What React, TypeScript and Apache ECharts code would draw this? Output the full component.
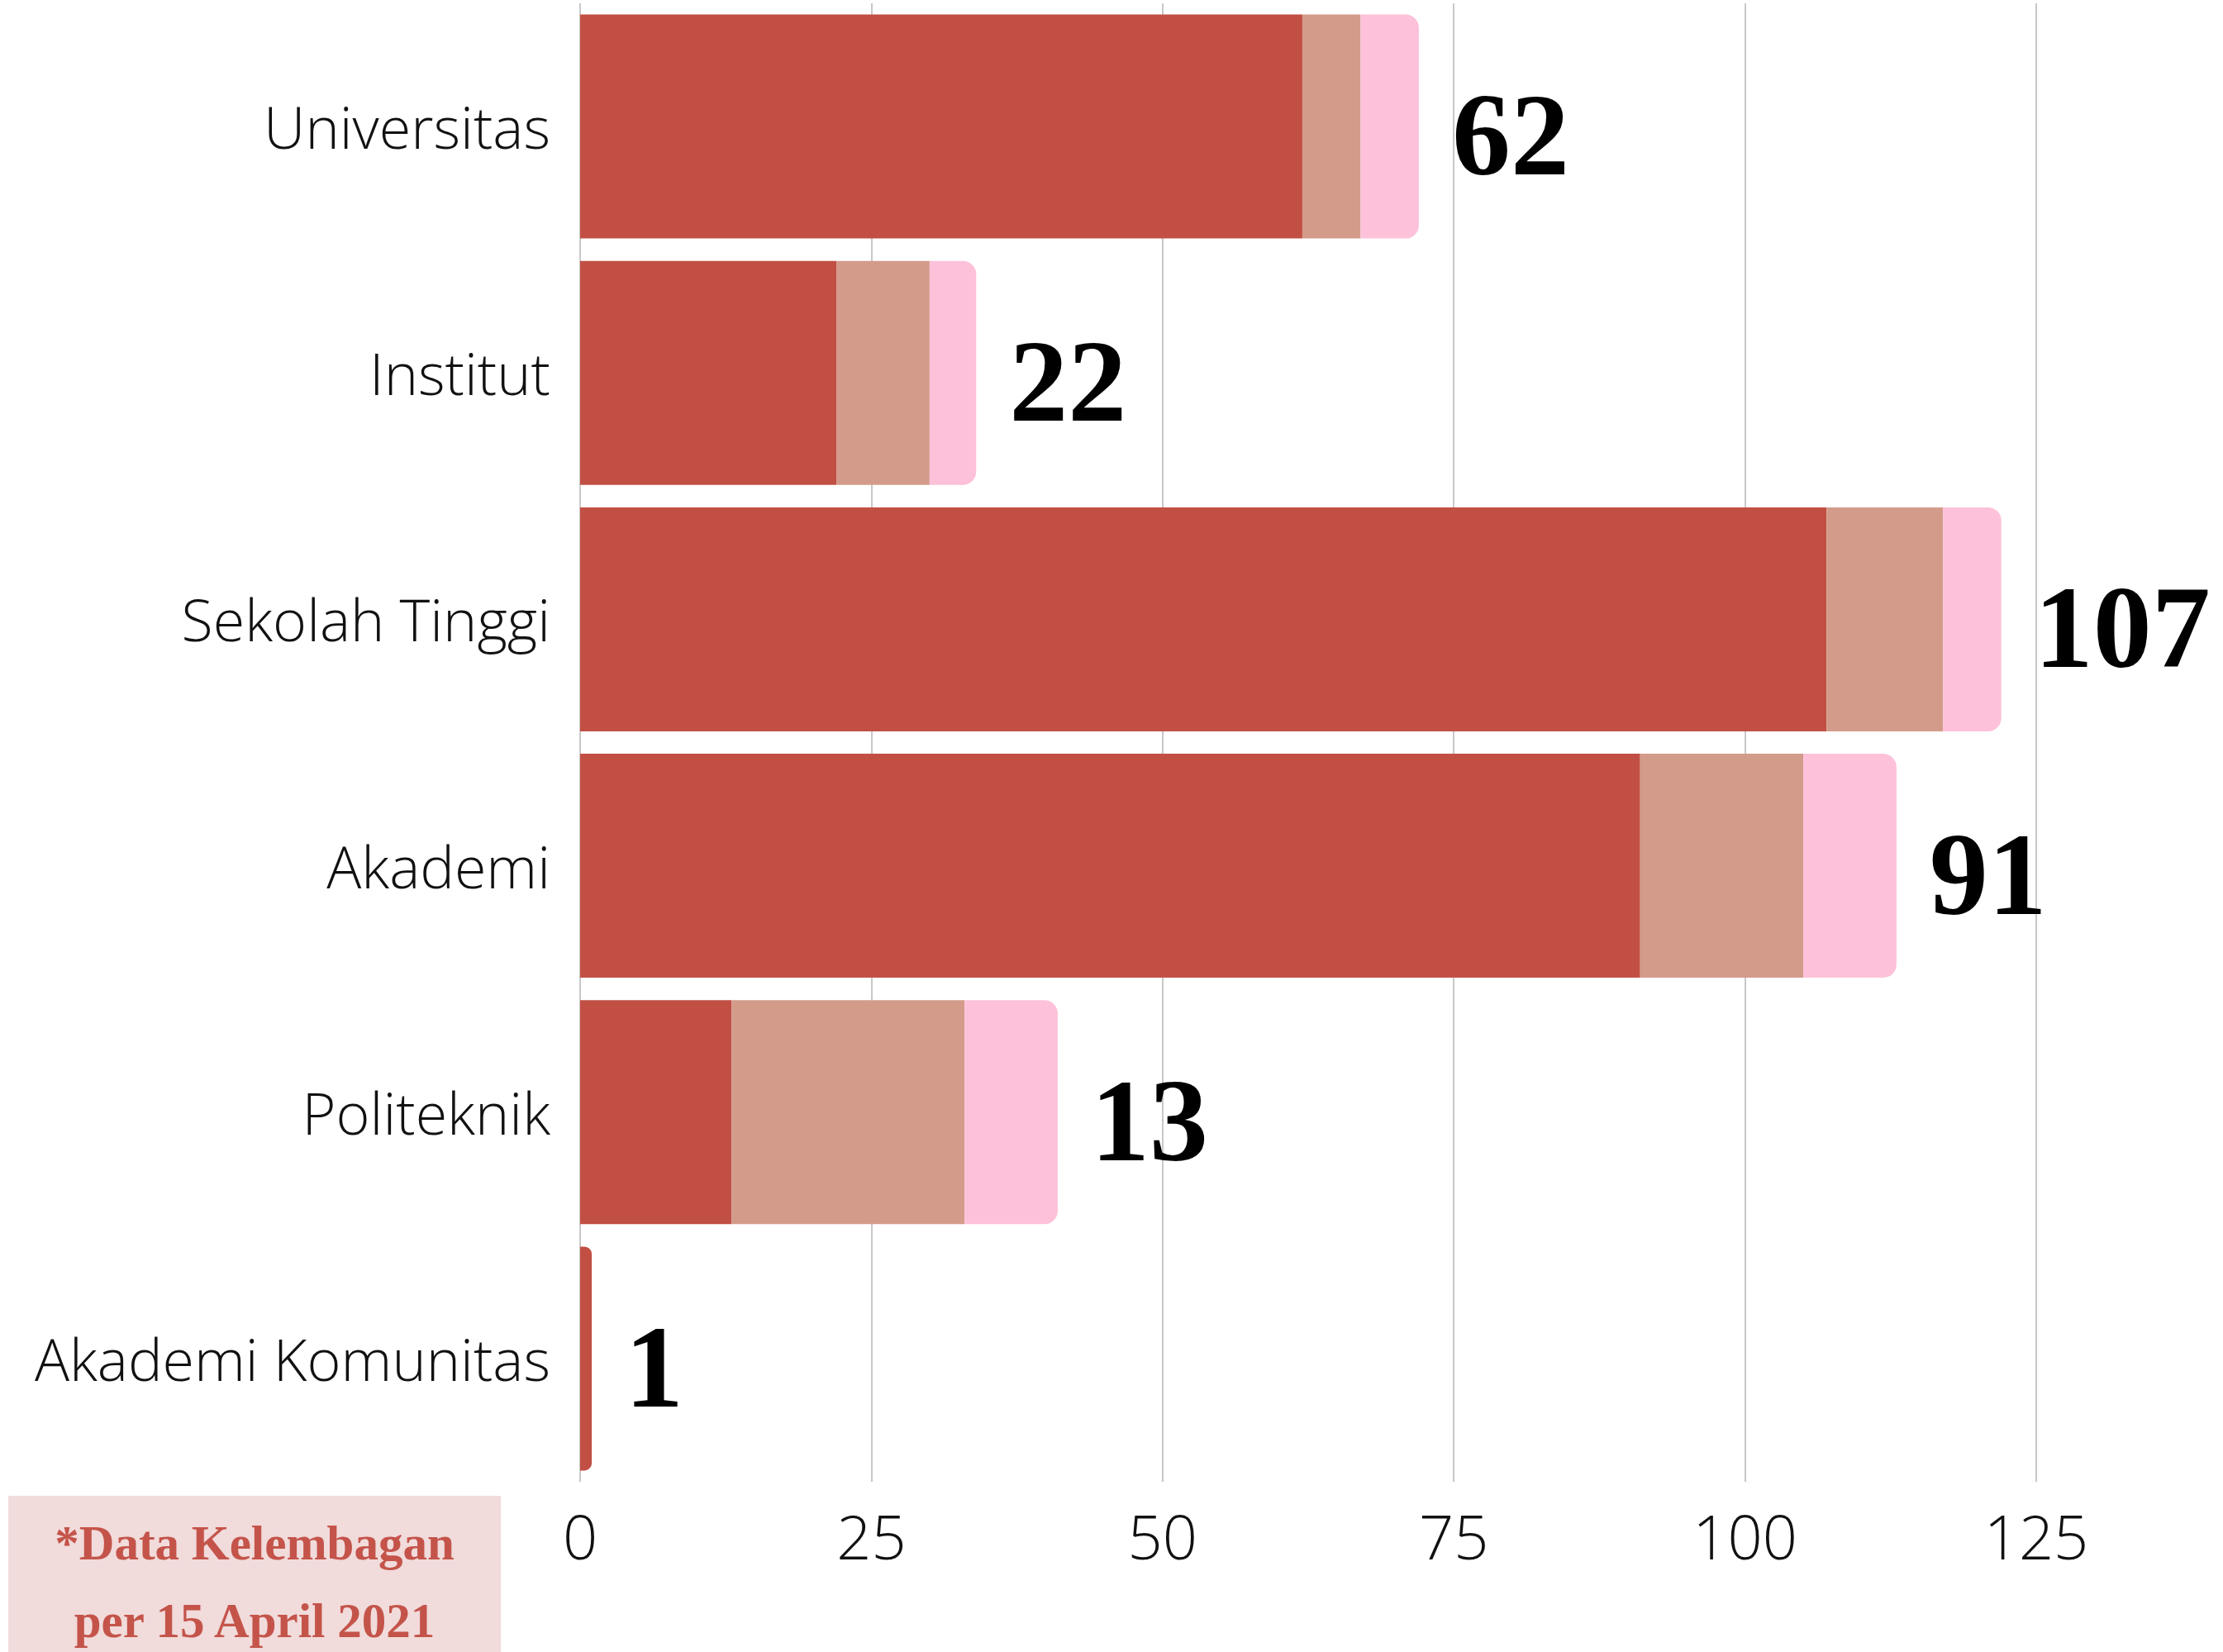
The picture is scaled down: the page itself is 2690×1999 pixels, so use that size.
import React, { useEffect, useRef } from "react";
import * as echarts from "echarts";

const categories = ["Universitas", "Institut", "Sekolah Tinggi", "Akademi", "Politeknik", "Akademi Komunitas"];
const seriesRed = [62, 22, 107, 91, 13, 1];
const seriesTan = [5, 8, 10, 14, 20, 0];
const seriesPink = [5, 4, 5, 8, 8, 0];
const xTicks = [0, 25, 50, 75, 100, 125];
const footnoteLines = ["*Data Kelembagan", "per 15 April 2021"];

const RED = "#C24F44";
const TAN = "#D39B8A";
const PINK = "#FDC1DA";

export default function App() {
  const ref = useRef<HTMLDivElement>(null);
  useEffect(() => {
    if (!ref.current) return;
    const chart = echarts.init(ref.current, undefined, { renderer: "svg" });
    const lastIdx = (i: number) => (seriesPink[i] > 0 ? 2 : seriesTan[i] > 0 ? 1 : 0);
    const mk = (arr: number[], sIdx: number) =>
      arr.map((v, i) => ({
        value: v,
        itemStyle: lastIdx(i) === sIdx ? { borderRadius: sIdx === 0 && v < 3 ? [0, 9, 9, 0] : [0, 16, 16, 0] } : { borderRadius: 0 },
      }));
    chart.setOption({
      animation: false,
      backgroundColor: "#ffffff",
      grid: { left: 702, top: 4, width: 1762, height: 1789, containLabel: false },
      xAxis: {
        type: "value",
        min: xTicks[0],
        max: xTicks[xTicks.length - 1],
        interval: 25,
        axisLine: { show: false },
        axisTick: { show: false },
        splitLine: { show: true, lineStyle: { color: "#c8c8c8", width: 2 } },
        axisLabel: {
          margin: 28,
          fontSize: 74,
          fontFamily: "Open Sans",
          fontWeight: 300,
          color: "#111",
        },
      },
      yAxis: {
        type: "category",
        data: categories,
        inverse: true,
        axisLine: { show: false },
        axisTick: { show: false },
        splitLine: { show: false },
        axisLabel: {
          margin: 36,
          fontSize: 70,
          fontFamily: "Open Sans",
          fontWeight: 300,
          color: "#111",
        },
      },
      series: [
        {
          name: "Segmen 1",
          type: "bar",
          stack: "total",
          barCategoryGap: "9.1%",
          itemStyle: { color: RED },
          data: mk(seriesRed, 0),
        },
        {
          name: "Segmen 2",
          type: "bar",
          stack: "total",
          itemStyle: { color: TAN },
          data: mk(seriesTan, 1),
        },
        {
          name: "Segmen 3",
          type: "bar",
          stack: "total",
          itemStyle: { color: PINK },
          data: mk(seriesPink, 2),
          label: {
            show: true,
            position: "right",
            distance: 40,
            offset: [0, 10],
            formatter: (p: any) => String(seriesRed[p.dataIndex]),
            fontFamily: "Liberation Serif",
            fontWeight: "bold",
            fontSize: 142,
            color: "#000",
          },
        },
      ],
      graphic: [
        {
          type: "group",
          left: 10,
          top: 1810,
          children: [
            { type: "rect", shape: { x: 0, y: 0, width: 596, height: 189 }, style: { fill: "#F1DBDB" } },
            {
              type: "text",
              x: 298,
              y: 57,
              style: {
                text: footnoteLines[0],
                fontFamily: "Liberation Serif",
                fontWeight: "bold",
                fontSize: 59,
                fill: "#C4544A",
                align: "center",
                verticalAlign: "middle",
              },
            },
            {
              type: "text",
              x: 298,
              y: 151,
              style: {
                text: footnoteLines[1],
                fontFamily: "Liberation Serif",
                fontWeight: "bold",
                fontSize: 59,
                fill: "#C4544A",
                align: "center",
                verticalAlign: "middle",
              },
            },
          ],
        },
      ],
    });
    return () => chart.dispose();
  }, []);
  return (
    <div
      ref={ref}
      style={{ position: "fixed", left: 0, top: 0, width: 2690, height: 1999, background: "#fff" }}
    />
  );
}
